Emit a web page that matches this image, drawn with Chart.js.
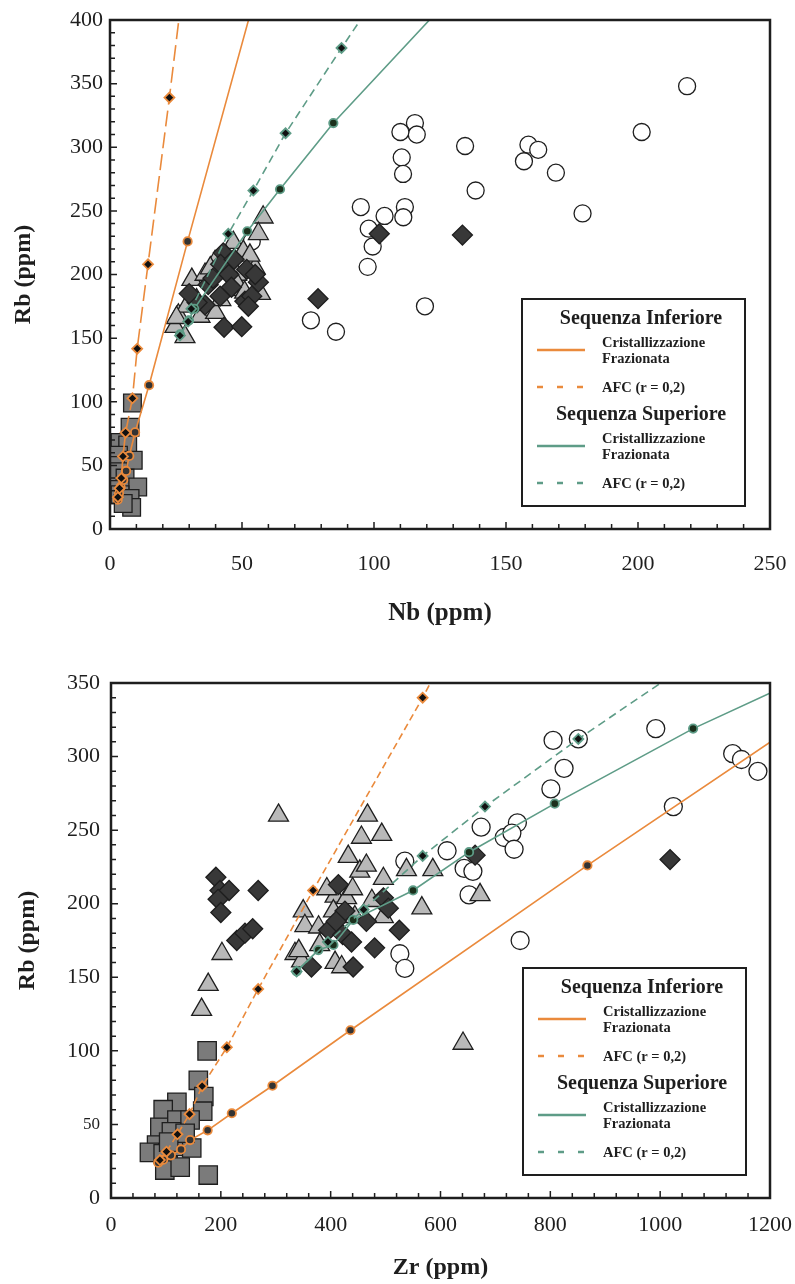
<!DOCTYPE html>
<html>
<head>
<meta charset="utf-8">
<script src="https://cdn.jsdelivr.net/npm/chart.js@4.4.0/dist/chart.umd.min.js"></script>
<style>
  html, body { margin: 0; padding: 0; background: #fff; }
  #wrap { position: relative; width: 795px; height: 1284px; }
  .panel { position: absolute; left: 0; width: 795px; }
  #top { top: 0; height: 650px; }
  #bot { top: 650px; height: 634px; }
</style>
</head>
<body>
<div id="wrap">
  <div class="panel" id="top"><canvas id="nbChart" width="795" height="650"></canvas></div>
  <div class="panel" id="bot"><canvas id="zrChart" width="795" height="634"></canvas></div>
</div>
<script>
// ---- tick labels ----
const nbTicks = [0, 50, 100, 150, 200, 250];
const rbTopTicks = [0, 50, 100, 150, 200, 250, 300, 350, 400];
const zrTicks = [0, 200, 400, 600, 800, 1000, 1200];
const rbBotTicks = [0, 50, 100, 150, 200, 250, 300, 350];

// ---- Nb vs Rb (top) : [Nb, Rb] ----
const nbRbSquares = [[8.5,99],[7.6,80],[3.8,68],[6.7,66],[3.2,58],[8.8,54],[1.5,50],[3.2,45],[5.7,40],
  [10.5,33],[1.3,31],[3.8,27],[7.6,24],[8.2,17],[5,20]];
const nbRbTriangles = [[58,245],[56.2,232],[46.7,225],[50.5,218],[39.8,210],[44,214],[48,200],[31,196],
  [45.5,188],[32.8,180],[48,193],[25.9,168],[24.6,159],[28.4,151],[34.1,167],[40,170],[51,186],[55,205],
  [53,215],[36,200],[42,180],[29,175],[38,205],[57,185],[25.2,166]];
const nbRbDiamonds = [[42.9,217],[41.9,208],[51.8,204],[56.2,194],[37.2,192],[41.7,183],[36,176],[51.1,179],
  [53.7,183],[52.4,175],[43.2,158.5],[49.9,159],[45,200],[47,212],[39,197],[33,178],[55,200],[30,185],
  [46,190],[78.8,181],[102,232],[133.5,231]];
const nbRbCircles = [[218.6,348],[201.4,312],[158.5,302],[162.2,298],[156.8,289],[168.9,280],[179,248],
  [134.5,301],[138.5,266],[115.5,319],[116.2,310],[110,312],[110.5,292],[111,279],[111.7,253],[111.1,245],
  [95,253],[98,236],[104,246],[99.5,222],[97.6,206],[119.3,175],[76.1,164],[85.6,155],[53.7,226]];
// model curves (last point = where the curve leaves the frame, no marker)
const nbRbInfFC = [[2.9,23],[3.4,28],[4,33],[5,38.5],[6.1,45.6],[7.3,57.4],[9.5,76],[14.8,113],[29.4,226],[53,404]];
const nbRbInfAFC = [[3,25],[3.6,32],[4.3,40],[4.9,57],[5.9,75.7],[8.5,102.7],[10.3,141.7],[14.4,208],[22.5,339],[26.3,404]];
const nbRbSupFC = [[26.5,153],[29.9,164],[31.9,173],[52,234],[64.4,267],[84.6,319],[121,400]];
const nbRbSupAFC = [[26.5,152],[29.6,163],[30.8,173],[44.8,232],[54.3,266],[66.5,311],[87.7,378],[95.5,402]];

// ---- Zr vs Rb (bottom) : [Zr, Rb] ----
const zrRbSquares = [[175,100],[159,80],[169,69],[167,59],[120,65],[95,60],[89,48],[120,53],[144,53],[83,36],
  [70,31],[95,30],[120,35],[147,34],[104,22],[98,19],[177,15.6],[126,21],[110,45],[135,44],[105,38]];
const zrRbTriangles = [[305,260],[467,260],[456,245],[493,247],[432,232],[453,222],[496,217],[408,205],
  [429,204],[475,202],[350,195],[353,185],[378,184],[405,195],[496,191],[335,166],[347,161],[408,160],
  [420,157],[380,172],[444,191],[465,226],[202,166],[177,145],[165,128],[538,223],[586,223],[566,197],
  [672,206],[641,105],[342,168],[393,210],[440,210]];
const zrRbDiamonds = [[191,218],[198.5,209],[215,209],[195,203],[200,194],[268,209],[229,175],[244,180],
  [258,183],[414,213],[426,195],[396,182],[422,179],[438,174],[465,188],[496,204],[505,197],[525,182],
  [441,157],[365,157],[663,233],[1018,230],[410,188],[480,170]];
const zrRbCircles = [[992,319],[805,311],[851,312],[825,292],[801,278],[1132,302],[1148,298],[1178,290],
  [1024,266],[674,252],[740,255],[716,245],[730,248],[734,237],[612,236],[643,224],[659,222],[652,206],
  [745,175],[535,229],[526,166],[535,156]];
const zrRbInfFC = [[86,24],[95,26],[109,29],[127.5,33],[144,39.4],[176,46],[220,57.6],[294,76.3],[436,114],[867.5,226],[1205,311]];
const zrRbInfAFC = [[89,25.8],[101,31.5],[121,43.3],[143,57],[166,76],[211,102.4],[268,142],[368,209],[567.5,340],[583,351]];
const zrRbSupFC = [[338,154],[377.5,168.5],[405,172],[441,189],[550,209],[652,235],[808,268],[1060,319],[1205,344]];
const zrRbSupAFC = [[338,154],[395,174],[460,196],[567.5,232.5],[681,266],[851,312],[1005,351]];

// ---- legend text ----
const legendTitles = ['Sequenza Inferiore', 'Sequenza Superiore'];
const fcLabel = ['Cristallizzazione', 'Frazionata'];
const afcLabel = 'AFC (r = 0,2)';

const SERIF = "'Liberation Serif', 'Times New Roman', serif";
const INK = '#1e1e1e';
const ORANGE = '#EA8A3C';
const GREEN = '#5E9C87';

function toPoints(arr) {
  return arr.map(p => ({ x: p[0], y: p[1] }));
}

function sampleSet(arr, style, radius, fill) {
  return {
    data: toPoints(arr),
    pointStyle: style,
    pointRadius: radius,
    pointHoverRadius: radius,
    pointBackgroundColor: fill,
    pointBorderColor: INK,
    pointBorderWidth: 1.3,
    showLine: false
  };
}

function modelSet(arr, color, dash, marker, fill) {
  return {
    data: toPoints(arr),
    showLine: true,
    borderColor: color,
    borderWidth: 1.6,
    borderDash: dash,
    tension: 0,
    pointStyle: marker,
    pointRadius: ctx => ctx.dataIndex === arr.length - 1 ? 0 : (marker === 'circle' ? 4.2 : 5),
    pointHoverRadius: 0,
    pointBackgroundColor: fill,
    pointBorderColor: color,
    pointBorderWidth: 1.8
  };
}

// frame + inward tick marks (minor & major)
const frameTicks = {
  id: 'frameTicks',
  afterDraw(chart, args, opts) {
    const { ctx, chartArea: a, scales } = chart;
    ctx.save();
    ctx.strokeStyle = INK;
    ctx.lineWidth = 1.5;
    ctx.beginPath();
    scales.x.ticks.forEach(t => {
      const px = scales.x.getPixelForValue(t.value);
      const len = opts.xLabels.includes(t.value) ? 7 : 5;
      ctx.moveTo(px, a.bottom);
      ctx.lineTo(px, a.bottom - len);
    });
    scales.y.ticks.forEach(t => {
      const py = scales.y.getPixelForValue(t.value);
      const len = opts.yLabels.includes(t.value) ? 7 : 5;
      ctx.moveTo(a.left, py);
      ctx.lineTo(a.left + len, py);
    });
    ctx.stroke();
    ctx.lineWidth = 2.5;
    ctx.strokeRect(a.left, a.top, a.right - a.left, a.bottom - a.top);
    ctx.restore();
  }
};

const legendBox = {
  id: 'legendBox',
  afterDraw(chart) {
    const { ctx, chartArea: a } = chart;
    const x0 = a.left + 412, y0 = a.bottom - 230, w = 223, h = 207;
    const colors = [ORANGE, GREEN];
    ctx.save();
    ctx.fillStyle = '#fff';
    ctx.fillRect(x0, y0, w, h);
    ctx.strokeStyle = INK;
    ctx.lineWidth = 2;
    ctx.strokeRect(x0, y0, w, h);
    legendTitles.forEach((title, i) => {
      const base = y0 + i * 96;
      ctx.fillStyle = INK;
      ctx.textBaseline = 'middle';
      ctx.textAlign = 'center';
      ctx.font = 'bold 20px ' + SERIF;
      ctx.fillText(title, x0 + 119, base + 20);
      ctx.textAlign = 'left';
      ctx.font = 'bold 14.5px ' + SERIF;
      ctx.fillText(fcLabel[0], x0 + 80, base + 44);
      ctx.fillText(fcLabel[1], x0 + 80, base + 60);
      ctx.fillText(afcLabel, x0 + 80, base + 89);
      ctx.strokeStyle = colors[i];
      ctx.lineWidth = 2.5;
      ctx.beginPath();
      ctx.moveTo(x0 + 15, base + 51);
      ctx.lineTo(x0 + 63, base + 51);
      ctx.stroke();
      ctx.setLineDash([6, 14]);
      ctx.beginPath();
      ctx.moveTo(x0 + 15, base + 88);
      ctx.lineTo(x0 + 63, base + 88);
      ctx.stroke();
      ctx.setLineDash([]);
    });
    ctx.restore();
  }
};

function axis(cfg) {
  return {
    type: 'linear',
    min: cfg.labels[0],
    max: cfg.labels[cfg.labels.length - 1],
    afterFit: s => {
      cfg.fit(s);
      // the frame padding is set by layout.padding, not by label overhang
      s.paddingLeft = 0;
      s.paddingRight = 0;
      s.paddingTop = 0;
      s.paddingBottom = 0;
    },
    grid: { display: false, drawTicks: false },
    border: { display: false },
    ticks: {
      stepSize: cfg.step,
      autoSkip: false,
      maxRotation: 0,
      padding: cfg.pad,
      color: INK,
      font: cfg.tickFont || { family: SERIF, size: 22 },
      callback: v => cfg.labels.includes(v) ? String(v) : ''
    },
    title: {
      display: true,
      text: cfg.title,
      color: INK,
      font: { family: SERIF, size: cfg.titleSize, weight: 'bold' },
      padding: cfg.titlePad
    }
  };
}

function makeChart(id, p) {
  return new Chart(document.getElementById(id), {
    type: 'scatter',
    data: { datasets: p.datasets },
    options: {
      responsive: false,
      animation: false,
      layout: { padding: p.padding },
      plugins: {
        legend: { display: false },
        tooltip: { enabled: false },
        frameTicks: { xLabels: p.x.labels, yLabels: p.y.labels }
      },
      scales: { x: axis(p.x), y: axis(p.y) }
    },
    plugins: [frameTicks, legendBox]
  });
}

makeChart('nbChart', {
  padding: { top: 20, right: 25, left: 0, bottom: 0 },
  datasets: [
    modelSet(nbRbInfAFC, ORANGE, [16, 6], 'rectRot', '#111'),
    modelSet(nbRbInfFC, ORANGE, [], 'circle', '#333'),
    modelSet(nbRbSupAFC, GREEN, [8, 5], 'rectRot', '#111'),
    modelSet(nbRbSupFC, GREEN, [], 'circle', '#1c301c'),
    sampleSet(nbRbDiamonds, 'rectRot', 10, '#383838'),
    sampleSet(nbRbTriangles, 'triangle', 11.5, '#b9b9b9'),
    sampleSet(nbRbSquares, 'rect', 12.5, '#7b7b7b'),
    sampleSet(nbRbCircles, 'circle', 8.5, '#ffffff')
  ],
  x: { labels: nbTicks, step: 10, pad: 22, title: 'Nb (ppm)', titleSize: 25,
       titlePad: { top: 0, bottom: 21 }, fit: s => { s.height = 121; } },
  y: { labels: rbTopTicks, step: 10, pad: 7, title: 'Rb (ppm)', titleSize: 24,
       titlePad: { top: 9, bottom: 0 }, fit: s => { s.width = 110; } }
});

makeChart('zrChart', {
  padding: { top: 33, right: 25, left: 0, bottom: 0 },
  datasets: [
    modelSet(zrRbInfAFC, ORANGE, [7, 4], 'rectRot', '#111'),
    modelSet(zrRbInfFC, ORANGE, [], 'circle', '#333'),
    modelSet(zrRbSupAFC, GREEN, [8, 5], 'rectRot', '#111'),
    modelSet(zrRbSupFC, GREEN, [], 'circle', '#1c301c'),
    sampleSet(zrRbDiamonds, 'rectRot', 10, '#383838'),
    sampleSet(zrRbTriangles, 'triangle', 11.5, '#b9b9b9'),
    sampleSet(zrRbSquares, 'rect', 13, '#7b7b7b'),
    sampleSet(zrRbCircles, 'circle', 9, '#ffffff')
  ],
  x: { labels: zrTicks, step: 40, pad: 14, title: 'Zr (ppm)', titleSize: 24,
       titlePad: { top: 0, bottom: 2 }, fit: s => { s.height = 86; } },
  y: { labels: rbBotTicks, step: 10, pad: 11, title: 'Rb (ppm)', titleSize: 24,
       titlePad: { top: 13, bottom: 0 }, fit: s => { s.width = 111; },
       tickFont: c => ({ family: SERIF, size: c.tick && c.tick.value === 50 ? 17 : 22 }) }
});
</script>
</body>
</html>
